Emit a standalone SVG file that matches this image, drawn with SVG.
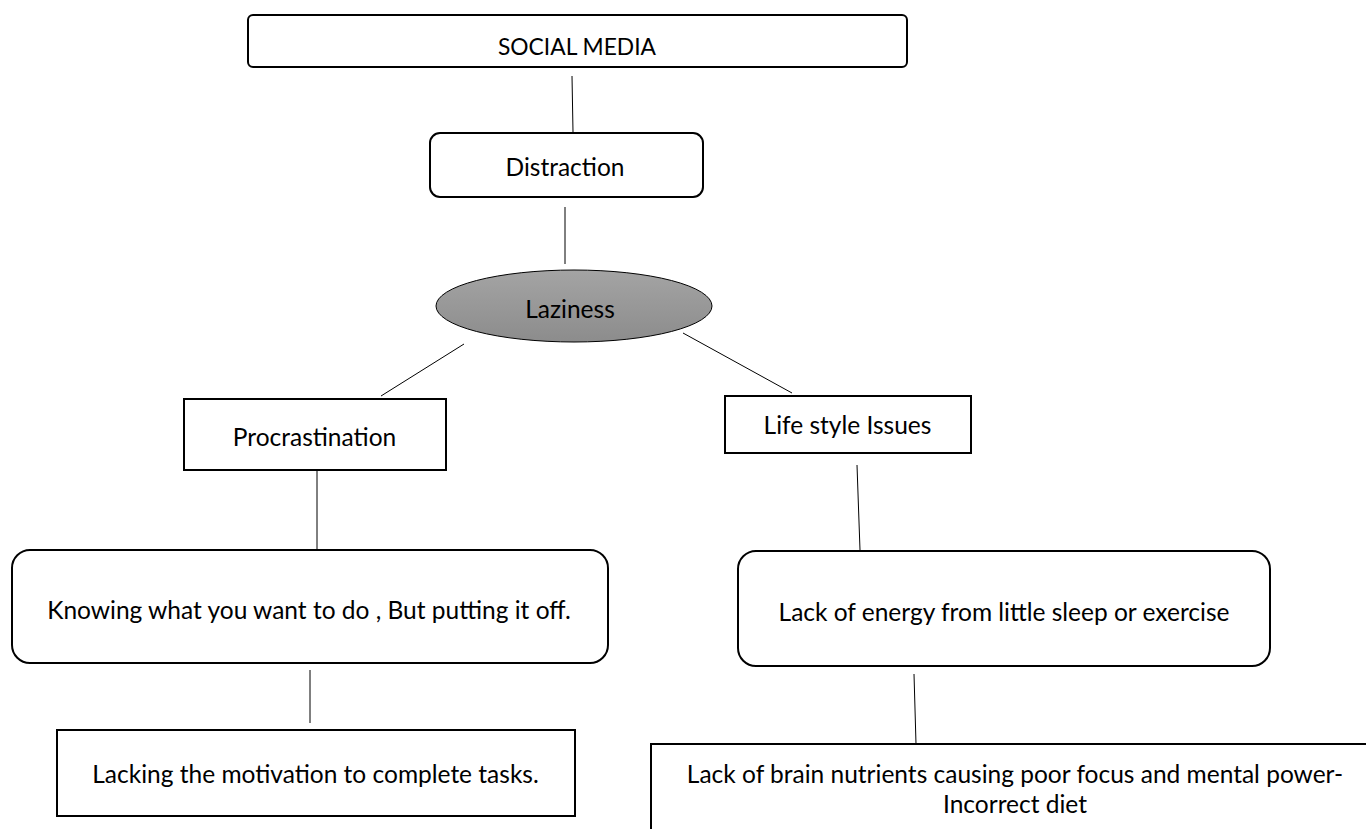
<svg xmlns="http://www.w3.org/2000/svg" width="1366" height="829" viewBox="0 0 1366 829">
<defs>
<linearGradient id="gray" x1="0" y1="0" x2="0" y2="1">
<stop offset="0" stop-color="#a4a4a4"/>
<stop offset="1" stop-color="#8c8c8c"/>
</linearGradient>
</defs>
<style>
.box{fill:#fff;stroke:#000;stroke-width:2}
.lbl{font-family:Lato,"Liberation Sans",sans-serif;font-size:24.5px;fill:#000;text-anchor:middle}
.con line{stroke:#000;stroke-width:1}
</style>
<rect width="1366" height="829" fill="#fff"/>
<g id="connectors" class="con">
<line x1="572" y1="76" x2="573" y2="132"/>
<line x1="565" y1="207" x2="565" y2="264"/>
<line x1="464" y1="344" x2="381" y2="396"/>
<line x1="683" y1="333" x2="792" y2="393"/>
<line x1="317" y1="467" x2="317" y2="550"/>
<line x1="857" y1="465" x2="860" y2="550"/>
<line x1="310" y1="670" x2="310" y2="723"/>
<line x1="914" y1="674" x2="916" y2="744"/>
</g>
<g id="social-media">
<rect class="box" x="248" y="15" width="659" height="52" rx="5"/>
<text class="lbl" x="577" y="55" style="font-size:22.8px">SOCIAL MEDIA</text>
</g>
<g id="distraction">
<rect class="box" x="430" y="133" width="273" height="64" rx="10"/>
<text class="lbl" x="565" y="176">Distraction</text>
</g>
<g id="laziness">
<ellipse cx="574" cy="306" rx="138" ry="36" fill="url(#gray)" stroke="#000" stroke-width="1"/>
<text class="lbl" x="570" y="318">Laziness</text>
</g>
<g id="procrastination">
<rect class="box" x="184" y="399" width="262" height="71"/>
<text class="lbl" x="314.5" y="446">Procrastination</text>
</g>
<g id="lifestyle">
<rect class="box" x="725" y="396" width="246" height="57"/>
<text class="lbl" x="847.5" y="434">Life style Issues</text>
</g>
<g id="knowing">
<rect class="box" x="12" y="550" width="596" height="113" rx="18"/>
<text class="lbl" x="309" y="619">Knowing what you want to do , But putting it off.</text>
</g>
<g id="lack-energy">
<rect class="box" x="738" y="551" width="532" height="115" rx="18"/>
<text class="lbl" x="1004" y="621">Lack of energy from little sleep or exercise</text>
</g>
<g id="lacking">
<rect class="box" x="57" y="730" width="518" height="86"/>
<text class="lbl" x="315.5" y="783">Lacking the motivation to complete tasks.</text>
</g>
<g id="brain">
<rect class="box" x="651" y="744" width="730" height="100"/>
<text class="lbl" x="1015" y="783">Lack of brain nutrients causing poor focus and mental power-</text>
<text class="lbl" x="1015" y="813">Incorrect diet</text>
</g>
</svg>
